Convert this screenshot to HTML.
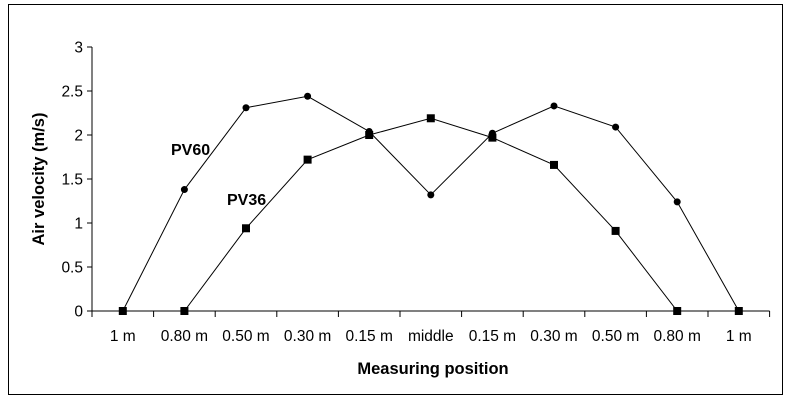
<!DOCTYPE html>
<html><head><meta charset="utf-8"><style>
body{margin:0;background:#fff;}
svg{display:block;font-family:"Liberation Sans",Arial,sans-serif;}
</style></head><body>
<svg id="chart" width="786" height="400" viewBox="0 0 786 400">
<rect x="8.5" y="4.5" width="774" height="390" fill="#fff" stroke="#000" stroke-width="1"/>
<g id="axes"></g><g id="series"></g>
<text x="433" y="374" font-size="16.5" font-weight="bold" text-anchor="middle">Measuring position</text>
<text transform="translate(44,179) rotate(-90)" font-size="16.5" font-weight="bold" text-anchor="middle">Air velocity (m/s)</text>
<text x="171" y="155" font-size="16" font-weight="bold">PV60</text>
<text x="227" y="205" font-size="16" font-weight="bold">PV36</text>
</svg>
<script>
const categories=["1 m","0.80 m","0.50 m","0.30 m","0.15 m","middle","0.15 m","0.30 m","0.50 m","0.80 m","1 m"];
const pv60=[0,1.38,2.31,2.44,2.04,1.32,2.02,2.33,2.09,1.24,0];
const pv36=[0,0,0.94,1.72,2.0,2.19,1.97,1.66,0.91,0,0];
const yTicks=[0,0.5,1,1.5,2,2.5,3];
const yTickLabels=["0","0.5","1","1.5","2","2.5","3"];
const NS="http://www.w3.org/2000/svg";
const L=92,R=769.6,T=47,B=311,yMax=3;
const bw=(R-L)/categories.length;
const x=i=>L+bw*(i+0.5);
const y=v=>B-(v/yMax)*(B-T);
function mk(tag,attrs,parent){const e=document.createElementNS(NS,tag);for(const k in attrs)e.setAttribute(k,attrs[k]);parent.appendChild(e);return e;}
const ax=document.getElementById('axes');
let e=mk('line',{x1:L,y1:T,x2:L,y2:B,stroke:'#000'},ax);


e=mk('line',{x1:L,y1:B,x2:R,y2:B,stroke:'#000'},ax);


yTicks.forEach((v,i)=>{
 const t=mk('line',{x1:L-5,y1:y(v),x2:L,y2:y(v),stroke:'#000'},ax);
 
 
 const tx=mk('text',{x:L-9,y:y(v)+5.5,'font-size':15.5,'text-anchor':'end'},ax);
 tx.textContent=yTickLabels[i];
 
 
});
for(let i=0;i<=categories.length;i++){
 const t=mk('line',{x1:L+bw*i,y1:B,x2:L+bw*i,y2:B+6,stroke:'#000'},ax);
 
 
}
categories.forEach((c,i)=>{
 const tx=mk('text',{x:x(i),y:341,'font-size':15.5,'text-anchor':'middle'},ax);
 tx.textContent=c;
 
 
});
const sg=document.getElementById('series');
function drawLine(data,name){
 const p=mk('polyline',{points:data.map((v,i)=>x(i)+','+y(v)).join(' '),fill:'none',stroke:'#000','stroke-width':1},sg);
 
 
}
drawLine(pv60,'pv60');
drawLine(pv36,'pv36');
pv60.forEach((v,i)=>{
 const c=mk('circle',{cx:x(i),cy:y(v),r:3.5,fill:'#000'},sg);
 
 
});
pv36.forEach((v,i)=>{
 const r=mk('rect',{x:x(i)-4,y:y(v)-4,width:8,height:8,fill:'#000'},sg);
 
 
});
</script>
</body></html>
